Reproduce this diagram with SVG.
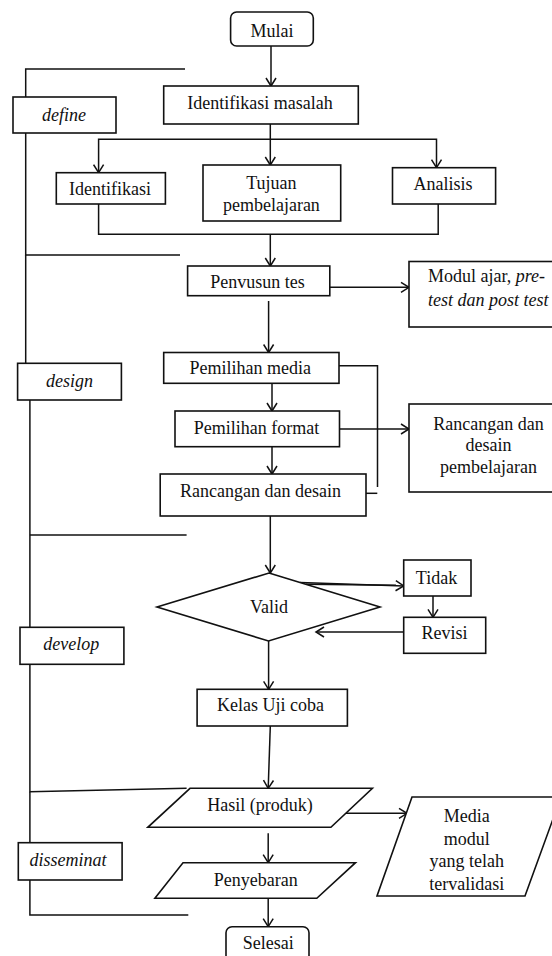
<svg xmlns="http://www.w3.org/2000/svg" width="552" height="956" viewBox="0 0 552 956">
<defs>
<style>
.b{fill:#fff;stroke:#111;stroke-width:1.6}
.l{fill:none;stroke:#111;stroke-width:1.5}
.a{fill:none;stroke:#111;stroke-width:1.5;marker-end:url(#ah)}
text{font-size:18px;fill:#111;text-anchor:middle}
.i{font-style:italic}
.s{text-anchor:start}
</style>
<marker id="ah" markerWidth="12" markerHeight="12" refX="10" refY="6" orient="auto" markerUnits="userSpaceOnUse">
<path d="M2,1 L10,6 L2,11" fill="none" stroke="#111" stroke-width="1.5"/>
</marker>
</defs>
<rect width="552" height="956" fill="#fff"/>

<g id="connectors">
<path class="a" d="M271,46 V86"/>
<path class="a" d="M270.3,124 V165"/>
<path class="a" d="M270.3,139.3 H98.6 V172.7"/>
<path class="a" d="M270.3,139.3 H436.5 V167.7"/>
<path class="l" d="M98.6,204 V234.3 H438.2 V204"/>
<path class="a" d="M270.3,234.3 V266"/>
<path class="a" d="M329.8,287.3 H409"/>
<path class="a" d="M268.6,301 V352.5"/>
<path class="a" d="M272,383.3 V411"/>
<path class="a" d="M339.5,429 H409"/>
<path class="a" d="M272,446.7 V474"/>
<path class="l" d="M339,365.7 H377.5 V487"/>
<path class="l" d="M359.3,493.3 H377.3"/>
<path class="a" d="M270.3,516 V573"/>
<path class="a" d="M300,582.5 L403.7,586"/>
<path class="l" d="M306,584.2 L396,585.2"/>
<path class="a" d="M433,596 V617.3"/>
<path class="a" d="M403.7,632 H316"/>
<path class="a" d="M268.6,641 V689.3"/>
<path class="a" d="M270.3,726 L268.2,788.3"/>
<path class="a" d="M346,813.3 H407"/>
<path class="a" d="M268.2,833.3 V862.7"/>
<path class="a" d="M268.2,898.3 V926.7"/>
<path class="l" d="M185,69 H25.7 V97"/>
<path class="l" d="M25.7,133 V255 H180"/>
<path class="l" d="M25.7,255 V363.3"/>
<path class="l" d="M29.9,400 V627.3"/>
<path class="l" d="M29.9,535 H186.6"/>
<path class="l" d="M29.9,664.3 V791.7 L186.6,788.3"/>
<path class="l" d="M29.9,791.7 V842.7"/>
<path class="l" d="M29.9,880 V915 H188.3"/>
</g>

<g font-family="Liberation Serif, Times New Roman, serif">
<g id="mulai"><rect class="b" x="230.6" y="12" width="82.7" height="34" rx="6"/><text x="272" y="37">Mulai</text></g>
<g id="identifikasi-masalah"><rect class="b" x="163.7" y="86" width="194.6" height="38"/><text x="260" y="109">Identifikasi masalah</text></g>
<g id="define"><rect class="b" x="13" y="97" width="103" height="36"/><text class="i" x="64" y="121">define</text></g>
<g id="identifikasi"><rect class="b" x="56.3" y="172.7" width="109.1" height="31.3"/><text x="110" y="195">Identifikasi</text></g>
<g id="tujuan"><rect class="b" x="203" y="165" width="137.7" height="56"/><text x="271.4" y="189">Tujuan</text><text x="271.4" y="211">pembelajaran</text></g>
<g id="analisis"><rect class="b" x="392.5" y="167.7" width="103.1" height="36.3"/><text x="443" y="190">Analisis</text></g>
<g id="penyusun-tes"><rect class="b" x="187.6" y="266" width="142.2" height="29.7"/><text x="257.5" y="288">Penvusun tes</text></g>
<g id="modul-ajar"><rect class="b" x="409" y="261.5" width="150" height="65.5"/><text class="s" x="428" y="282">Modul ajar, <tspan class="i">pre-</tspan></text><text class="s i" x="428" y="306">test dan post test</text></g>
<g id="design"><rect class="b" x="17.6" y="363.3" width="103.8" height="36.7"/><text class="i" x="69.5" y="387">design</text></g>
<g id="pemilihan-media"><rect class="b" x="163.7" y="352.5" width="175.3" height="30.8"/><text x="250.3" y="374">Pemilihan media</text></g>
<g id="pemilihan-format"><rect class="b" x="175" y="411" width="164.5" height="35.7"/><text x="256.4" y="434">Pemilihan format</text></g>
<g id="rancangan-pembelajaran"><rect class="b" x="409" y="404" width="150" height="88"/><text x="488.5" y="429.5">Rancangan dan</text><text x="488.5" y="451">desain</text><text x="488.5" y="472.5">pembelajaran</text></g>
<g id="rancangan-desain"><rect class="b" x="160.2" y="474" width="205.8" height="42"/><text x="260.5" y="497">Rancangan dan desain</text></g>
<g id="valid"><polygon class="b" points="269,573 380,607 268.5,641 157,607"/><text x="269" y="613">Valid</text></g>
<g id="tidak"><rect class="b" x="403.7" y="560" width="67.3" height="36"/><text x="436.5" y="584">Tidak</text></g>
<g id="revisi"><rect class="b" x="403.7" y="617.3" width="82" height="36"/><text x="444.4" y="639">Revisi</text></g>
<g id="develop"><rect class="b" x="20" y="627.3" width="103.9" height="37"/><text class="i" x="71.3" y="650">develop</text></g>
<g id="kelas-uji-coba"><rect class="b" x="197.1" y="689.3" width="150.3" height="36.7"/><text x="270.5" y="711">Kelas Uji coba</text></g>
<g id="hasil"><polygon class="b" points="190,788.3 372.4,788.3 330.9,827.3 147.8,827.3"/><text x="260" y="811">Hasil (produk)</text></g>
<g id="media"><polygon class="b" points="412,797 561,797 525,896 377,896"/><text x="466.7" y="822">Media</text><text x="466.7" y="844.5">modul</text><text x="466.7" y="867">yang telah</text><text x="466.7" y="889.5">tervalidasi</text></g>
<g id="disseminat"><rect class="b" x="18.3" y="842.7" width="103.8" height="37.3"/><text class="i" x="68" y="866">disseminat</text></g>
<g id="penyebaran"><polygon class="b" points="183,862.7 355.5,862.7 316.8,898.3 154.9,898.3"/><text x="255.7" y="886">Penyebaran</text></g>
<g id="selesai"><rect class="b" x="226" y="926.7" width="83" height="36" rx="6"/><text x="268.3" y="949">Selesai</text></g>
</g>
</svg>
